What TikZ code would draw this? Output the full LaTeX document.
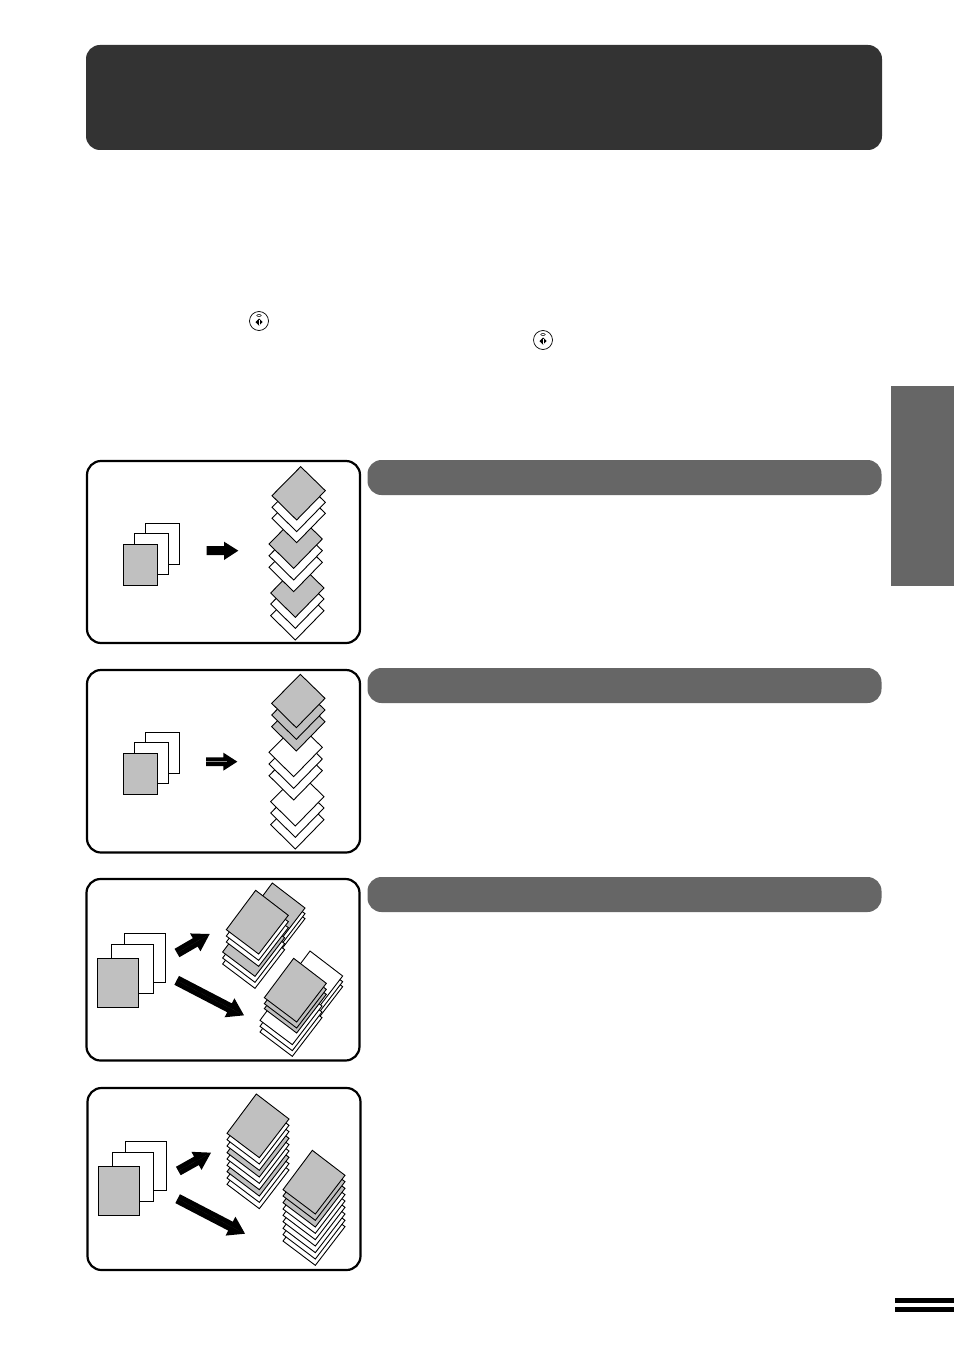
\documentclass[tikz,border=0pt]{standalone}
\definecolor{sheetgray}{HTML}{C0C0C0}
\definecolor{bardark}{HTML}{333333}
\definecolor{barmid}{HTML}{666666}
\tikzset{
  panelbox/.style={draw=black,line width=2.2pt,rounded corners=14pt,fill=white},
  titlebar/.style={fill=barmid,rounded corners=14pt},
  sheetline/.style={draw=black,line width=0.9pt,line join=miter},
  pageline/.style={draw=black,line width=1pt,fill=white},
  zoomed/.style={x=0.33333pt,y=-0.33333pt,shift={(#1)}}
}
% flat diamond sheet: bottom corner x,y, fill
\newcommand\flatsheet[3]{\draw[sheetline,fill=#3] (#1,#2) -- ++(86,-88) -- ++(-74,-72) -- ++(-86,87) -- cycle;}
% tilted sheet: bottom corner x,y, fill
\newcommand\tiltsheet[3]{\draw[sheetline,fill=#3] (#1,#2) -- ++(89,-116) -- ++(-98,-75) -- ++(-88,118) -- cycle;}
% originals: three pages; x of back, mid, front and y of them
\newcommand\pages[8]{%
  \draw[pageline] (#1,#2) rectangle ++(#7,#8);
  \draw[pageline] (#3,#4) rectangle ++(#7,#8);
  \draw[pageline,fill=sheetgray] (#5,#6) rectangle ++(#7,#8);}
% fat arrow from tail to tip
\newcommand\fatarrow[7]{%
  \pgfmathsetmacro\fdx{#3-#1}\pgfmathsetmacro\fdy{#4-#2}
  \pgfmathsetmacro\fl{veclen(\fdx,\fdy)}
  \pgfmathsetmacro\fux{\fdx/\fl}\pgfmathsetmacro\fuy{\fdy/\fl}
  \pgfmathsetmacro\bx{#3-#6*\fux}\pgfmathsetmacro\by{#4-#6*\fuy}
  \fill[black] (#1-#5*\fuy,#2+#5*\fux) -- (\bx-#5*\fuy,\by+#5*\fux)
    -- (\bx-#7*\fuy,\by+#7*\fux) -- (#3,#4) -- (\bx+#7*\fuy,\by-#7*\fux)
    -- (\bx+#5*\fuy,\by-#5*\fux) -- (#1+#5*\fuy,#2-#5*\fux) -- cycle;
  \draw[black!65,line width=0.25pt,densely dotted] (#1,#2) -- (#3,#4);}
\newcommand\starticon[2]{%
  \draw[black,line width=0.7pt,fill=white] (#1,#2) circle[radius=9.5pt];
  \draw[black,line width=0.5pt] (#1,#2) ++(0pt,5.5pt) ellipse[x radius=2.2pt,y radius=1pt];
  \fill[black] (#1,#2) ++(0pt,2.5pt) -- ++(3.6pt,-3.6pt) -- ++(-3.6pt,-3.6pt) -- ++(-3.6pt,3.6pt) -- cycle;
  \draw[white,line width=0.4pt] (#1,#2) ++(0pt,1.5pt) -- ++(0pt,-5pt);}
\begin{document}
\begin{tikzpicture}[x=1pt,y=-1pt]
\useasboundingbox (0,0) rectangle (954,1351);
\fill[white] (0,0) rectangle (954,1351);
% header and title bars
\fill[bardark,rounded corners=14pt] (86,45) rectangle (882,150);
\fill[titlebar] (367.5,460) rectangle (881.5,495);
\fill[titlebar] (367.5,668) rectangle (881.5,703);
\fill[titlebar] (367.5,877) rectangle (881.5,912);
% side tab and end marks
\fill[barmid] (891,386) rectangle (954,586);
\fill[black] (895,1298) rectangle (954,1303);
\fill[black] (895,1307) rectangle (954,1312);
% button icons
\starticon{259pt}{-321pt}
\starticon{543pt}{-340pt}
% panels
\draw[panelbox] (87,461) rectangle (360,643);
\draw[panelbox] (87,670) rectangle (360,852.5);
\draw[panelbox] (86.5,879) rectangle (359.5,1060.5);
\draw[panelbox] (87.5,1088) rectangle (360.5,1270);

% ----- panel 1
\begin{scope}[zoomed={80pt,-455pt}]
\pages{195}{205}{163}{235}{130}{268}{103}{123}
\fill[black] (380,273) -- (432,273) -- (432,260) -- (475,287) -- (432,315) -- (432,300) -- (380,300) -- cycle;
\foreach \yy/\cc in {555/white,520/white,487/sheetgray}{\flatsheet{646}{\yy}{\cc}}
\foreach \yy/\cc in {410/white,375/white,340/sheetgray}{\flatsheet{641}{\yy}{\cc}}
\foreach \yy/\cc in {263/white,230/white,195/sheetgray}{\flatsheet{650}{\yy}{\cc}}
\end{scope}

% ----- panel 2
\begin{scope}[zoomed={80pt,-665pt}]
\pages{195}{202}{163}{232}{130}{265}{103}{123}
\fill[black] (378,277) -- (430,277) -- (430,263) -- (472,290) -- (430,317) -- (430,303) -- (378,303) -- cycle;
\draw[black!45,line width=0.6pt] (378,290) -- (440,290);
\foreach \yy/\cc in {552/white,517/white,483/white}{\flatsheet{646}{\yy}{\cc}}
\foreach \yy/\cc in {405/white,370/white,335/white}{\flatsheet{641}{\yy}{\cc}}
\foreach \yy/\cc in {258/sheetgray,223/sheetgray,188/sheetgray}{\flatsheet{649}{\yy}{\cc}}
\end{scope}

% ----- panel 3
\begin{scope}[zoomed={80pt,-873pt}]
\pages{133}{181}{95}{214}{52}{256}{124}{147}
\fatarrow{291}{240}{389}{183}{14.5}{50}{31}
\fatarrow{290}{322}{492}{427}{15}{49}{32}
% first stack, back
\foreach \yy/\cc in {253/white,238/white,221/sheetgray}{\tiltsheet{586}{\yy}{\cc}}
\foreach \yy/\cc in {346/white,328/white,310/sheetgray}{\tiltsheet{525}{\yy}{\cc}}
\foreach \yy/\cc in {280/white,262/white,243/sheetgray}{\tiltsheet{536}{\yy}{\cc}}
% second stack, back
\foreach \yy/\cc in {457/white,442/white,425/white}{\tiltsheet{699}{\yy}{\cc}}
\foreach \yy/\cc in {550/white,533/white,515/white}{\tiltsheet{637}{\yy}{\cc}}
\foreach \yy/\cc in {480/sheetgray,465/sheetgray,447/sheetgray}{\tiltsheet{650}{\yy}{\cc}}
\end{scope}

% ----- panel 4
\begin{scope}[zoomed={80pt,-1082pt}]
\pages{136}{178}{97}{211}{55}{253}{124}{147}
\fatarrow{295}{267}{393}{212}{14.5}{50}{31}
\fatarrow{293}{350}{495}{455}{15}{49}{32}
\foreach \yy/\cc in {380/white,361/white,342/sheetgray,323/white,304/white,285/sheetgray,265/white,246/white,227/sheetgray}{\tiltsheet{538}{\yy}{\cc}}
\foreach \yy/\cc in {550/white,531/white,512/white,492/white,473/white,454/white,435/sheetgray,415/sheetgray,396/sheetgray}{\tiltsheet{706}{\yy}{\cc}}
\end{scope}
\end{tikzpicture}
\end{document}
